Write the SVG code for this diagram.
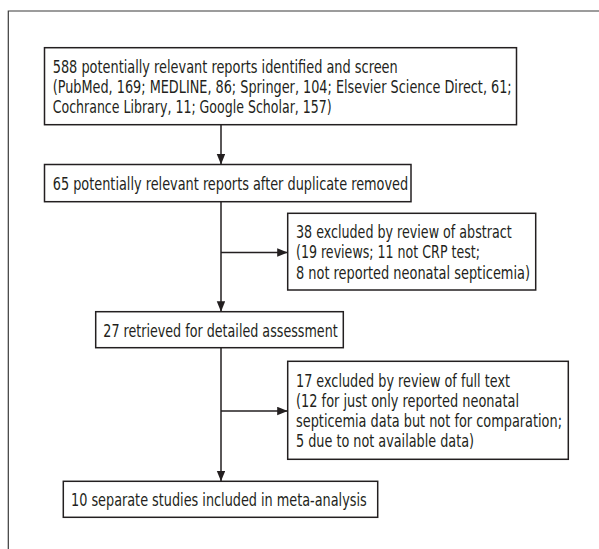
<svg xmlns="http://www.w3.org/2000/svg" width="599" height="549" viewBox="0 0 599 549">
<defs>
<style>
.box{fill:#fff;stroke:#231f20;stroke-width:1.5}
.ln{fill:none;stroke:#231f20;stroke-width:1.5}
.frame{fill:none;stroke:#3a3a3a;stroke-width:1.2}
text{font-family:"Liberation Sans Narrow","DejaVu Sans Condensed","Liberation Sans",sans-serif;font-size:17.5px;fill:#231f20}
</style>
<marker id="ah" markerUnits="userSpaceOnUse" markerWidth="11" markerHeight="9" refX="10.5" refY="4.25" orient="auto">
<path d="M0,0 L10.5,4.25 L0,8.5 z" fill="#231f20"/>
</marker>
</defs>
<rect width="599" height="549" fill="#fff"/>
<path class="frame" d="M8.3,549 V11 H599"/>
<g id="connectors">
<line class="ln" x1="221" y1="125" x2="221" y2="164.5" marker-end="url(#ah)"/>
<line class="ln" x1="221" y1="201.7" x2="221" y2="311.7" marker-end="url(#ah)"/>
<line class="ln" x1="221" y1="252.5" x2="287.7" y2="252.5" marker-end="url(#ah)"/>
<line class="ln" x1="221" y1="347.7" x2="221" y2="481.3" marker-end="url(#ah)"/>
<line class="ln" x1="221" y1="411" x2="287.7" y2="411" marker-end="url(#ah)"/>
</g>
<g id="n1">
<rect class="box" x="44.5" y="47.7" width="472" height="77"/>
<text x="52.7" y="73.3" textLength="345" lengthAdjust="spacingAndGlyphs">588 potentially relevant reports identified and screen</text>
<text x="52.7" y="93.3" textLength="459" lengthAdjust="spacingAndGlyphs">(PubMed, 169; MEDLINE, 86; Springer, 104; Elsevier Science Direct, 61;</text>
<text x="52.7" y="112.9" textLength="279" lengthAdjust="spacingAndGlyphs">Cochrance Library, 11; Google Scholar, 157)</text>
</g>
<g id="n2">
<rect class="box" x="44.5" y="164.5" width="366.5" height="37.2"/>
<text x="52.7" y="189.5" textLength="355.5" lengthAdjust="spacingAndGlyphs">65 potentially relevant reports after duplicate removed</text>
</g>
<g id="n3">
<rect class="box" x="287.7" y="213.3" width="248" height="76.7"/>
<text x="296" y="237.6" textLength="215.7" lengthAdjust="spacingAndGlyphs">38 excluded by review of abstract</text>
<text x="296" y="258.1" textLength="184" lengthAdjust="spacingAndGlyphs">(19 reviews; 11 not CRP test;</text>
<text x="296" y="278.6" textLength="234" lengthAdjust="spacingAndGlyphs">8 not reported neonatal septicemia)</text>
</g>
<g id="n4">
<rect class="box" x="95.7" y="311.7" width="247.6" height="36"/>
<text x="103.3" y="337" textLength="234.4" lengthAdjust="spacingAndGlyphs">27 retrieved for detailed assessment</text>
</g>
<g id="n5">
<rect class="box" x="287.7" y="361.3" width="280.6" height="98"/>
<text x="296" y="386.6" textLength="214" lengthAdjust="spacingAndGlyphs">17 excluded by review of full text</text>
<text x="296" y="406.8" textLength="223" lengthAdjust="spacingAndGlyphs">(12 for just only reported neonatal</text>
<text x="296" y="427" textLength="266" lengthAdjust="spacingAndGlyphs">septicemia data but not for comparation;</text>
<text x="296" y="447.2" textLength="178" lengthAdjust="spacingAndGlyphs">5 due to not available data)</text>
</g>
<g id="n6">
<rect class="box" x="63.3" y="481.3" width="314.4" height="36"/>
<text x="71" y="506.3" textLength="295.7" lengthAdjust="spacingAndGlyphs">10 separate studies included in meta-analysis</text>
</g>
</svg>
